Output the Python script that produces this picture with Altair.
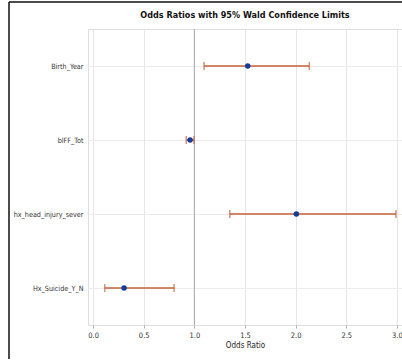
import altair as alt
import pandas as pd

effects = ["Birth_Year", "blFF_Tot", "hx_head_injury_sever", "Hx_Suicide_Y_N"]
odds_ratio = [1.527, 0.958, 2.007, 0.306]
lower_cl = [1.096, 0.920, 1.350, 0.115]
upper_cl = [2.135, 0.997, 2.990, 0.800]
x_ticks = [0.0, 0.5, 1.0, 1.5, 2.0, 2.5, 3.0]

df = pd.DataFrame({"Effect": effects, "OR": odds_ratio, "Lower": lower_cl, "Upper": upper_cl})

FONT = "DejaVu Sans Condensed, Liberation Sans, sans-serif"
ERR = "#C4613A"
DOT = "#123C9C"

xscale = alt.Scale(domain=[-0.05, 3.05], nice=False, zero=False)
yscale = alt.Scale(type="point", domain=effects, padding=0.5)

base = alt.Chart(df)

err = base.mark_rule(color=ERR, strokeWidth=1.5).encode(
    x=alt.X("Lower:Q", scale=xscale,
            axis=alt.Axis(values=x_ticks, format=".1f", title="Odds Ratio",
                          grid=True, gridColor="#e6e6e6", domain=False,
                          ticks=True, tickSize=3, tickColor="#b0b0b0",
                          labelFont=FONT, labelFontSize=7.5, labelColor="#333",
                          labelPadding=3, titleFont=FONT, titleFontSize=8,
                          titleFontWeight="normal", titleColor="#222", titlePadding=3)),
    x2="Upper:Q",
    y=alt.Y("Effect:N", scale=yscale, sort=effects,
            axis=alt.Axis(title=None, grid=True, gridColor="#ececec", domain=False,
                          ticks=False, labelFont=FONT, labelFontSize=7.2,
                          labelColor="#333", labelPadding=5)),
)

cap_lo = base.mark_tick(color=ERR, thickness=1.5, size=8, orient="vertical").encode(
    x=alt.X("Lower:Q", scale=xscale), y=alt.Y("Effect:N", scale=yscale, sort=effects))
cap_hi = base.mark_tick(color=ERR, thickness=1.5, size=8, orient="vertical").encode(
    x=alt.X("Upper:Q", scale=xscale), y=alt.Y("Effect:N", scale=yscale, sort=effects))

pts = base.mark_point(filled=True, color=DOT, size=30, opacity=1).encode(
    x=alt.X("OR:Q", scale=xscale), y=alt.Y("Effect:N", scale=yscale, sort=effects))

ref = alt.Chart(pd.DataFrame({"ref": [1.0]})).mark_rule(color="#a8a8a8", strokeWidth=1).encode(
    x=alt.X("ref:Q", scale=xscale))

border_left = alt.Chart(pd.DataFrame({"a": [0]})).mark_rule(color="#111", strokeWidth=1.5).encode(
    x=alt.value(-79), y=alt.value(-27), y2=alt.value(333))
border_top = alt.Chart(pd.DataFrame({"a": [0]})).mark_rule(color="#111", strokeWidth=1.5).encode(
    x=alt.value(-79), x2=alt.value(330), y=alt.value(-27))
border_bot = alt.Chart(pd.DataFrame({"a": [0]})).mark_rule(color="#d8d8d8", strokeWidth=1).encode(
    x=alt.value(-79), x2=alt.value(330), y=alt.value(333))

chart = alt.layer(ref, err, cap_lo, cap_hi, pts, border_left, border_top, border_bot).properties(
    width=314, height=296,
    title=alt.TitleParams("Odds Ratios with 95% Wald Confidence Limits", font=FONT,
                          fontSize=9, fontWeight="bold", color="#111", offset=0, dy=19,
                          anchor="middle"),
    autosize=alt.AutoSizeParams(type="none"),
    padding={"left": 88, "top": 29, "right": 0, "bottom": 34},
).configure_view(stroke="#b0b0b0", strokeWidth=1).configure(background="white")

chart.save("out.html", embed_options={"renderer": "svg", "actions": False})
